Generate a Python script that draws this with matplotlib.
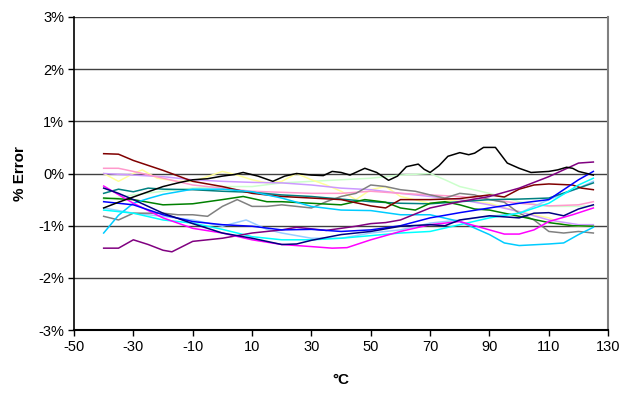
import matplotlib
matplotlib.use('Agg')
import matplotlib.pyplot as plt
from matplotlib.ticker import FuncFormatter

plt.rcParams['font.family'] = ['Liberation Sans', 'DejaVu Sans']
plt.rcParams['axes.unicode_minus'] = False

# readings (temperature in degC, error in %)
black_x = [-40, -35, -30, -25, -20, -15, -10, -5, 0, 4, 7, 12, 17, 21, 25, 30, 34, 37, 40, 43, 48, 52, 56, 59, 62, 66, 68, 70, 73, 76, 80, 83, 85, 88, 92, 94, 96, 100, 104, 110, 113, 116, 118, 120, 125]
black_y = [-0.66, -0.55, -0.45, -0.35, -0.25, -0.18, -0.12, -0.1, -0.05, -0.02, 0.02, -0.05, -0.15, -0.05, 0.0, -0.03, -0.04, 0.04, 0.02, -0.03, 0.1, 0.02, -0.13, -0.05, 0.13, 0.18, 0.08, 0.02, 0.15, 0.33, 0.4, 0.36, 0.39, 0.5, 0.5, 0.35, 0.2, 0.1, 0.02, 0.04, 0.07, 0.12, 0.1, 0.04, -0.03]

darkred_x = [-40, -35, -30, -20, -10, 0, 10, 20, 30, 40, 50, 55, 60, 70, 80, 90, 95, 100, 105, 110, 118, 121, 125]
darkred_y = [0.38, 0.37, 0.25, 0.06, -0.15, -0.25, -0.38, -0.44, -0.47, -0.5, -0.62, -0.66, -0.5, -0.5, -0.48, -0.41, -0.45, -0.3, -0.22, -0.2, -0.22, -0.28, -0.31]

purple_x = [-40, -35, -30, -25, -20, -17, -10, 0, 10, 20, 25, 35, 45, 50, 55, 60, 70, 80, 90, 100, 110, 115, 120, 125]
purple_y = [-1.43, -1.43, -1.27, -1.36, -1.47, -1.5, -1.3, -1.24, -1.14, -1.08, -1.03, -1.09, -1.01, -0.96, -0.94, -0.89, -0.66, -0.54, -0.44, -0.28, -0.06, 0.07, 0.2, 0.22]

magenta_x = [-40, -30, -20, -10, 0, 10, 20, 30, 37, 42, 50, 60, 70, 80, 90, 95, 100, 105, 110, 118, 125]
magenta_y = [-0.24, -0.57, -0.85, -1.05, -1.14, -1.27, -1.36, -1.4, -1.43, -1.42, -1.27, -1.11, -0.98, -0.92, -1.08, -1.16, -1.16, -1.08, -0.92, -0.79, -0.66]

navy_x = [-40, -35, -30, -20, -10, 0, 10, 20, 25, 30, 40, 50, 60, 70, 75, 80, 90, 100, 105, 110, 115, 120, 125]
navy_y = [-0.28, -0.38, -0.5, -0.76, -0.96, -1.14, -1.24, -1.36, -1.35, -1.28, -1.17, -1.11, -1.01, -0.98, -1.0, -0.89, -0.81, -0.85, -0.76, -0.75, -0.81, -0.68, -0.6]

blue_x = [-40, -30, -20, -10, 0, 10, 20, 30, 40, 50, 60, 70, 80, 90, 100, 110, 115, 120, 125]
blue_y = [-0.54, -0.6, -0.79, -0.92, -0.98, -1.01, -1.08, -1.07, -1.11, -1.08, -1.0, -0.85, -0.75, -0.66, -0.57, -0.5, -0.31, -0.12, 0.04]

sky_x = [-40, -35, -30, -25, -20, -10, 0, 10, 20, 30, 40, 50, 60, 70, 80, 90, 95, 100, 110, 115, 120, 125]
sky_y = [-1.14, -0.8, -0.57, -0.48, -0.4, -0.3, -0.3, -0.35, -0.47, -0.63, -0.7, -0.71, -0.79, -0.79, -0.92, -1.17, -1.33, -1.38, -1.35, -1.33, -1.17, -1.03]

cyan_x = [-40, -30, -20, -10, 0, 10, 20, 30, 40, 50, 60, 70, 80, 90, 100, 110, 120, 125]
cyan_y = [-0.7, -0.76, -0.89, -0.95, -1.07, -1.21, -1.27, -1.27, -1.24, -1.19, -1.14, -1.11, -0.98, -0.85, -0.76, -0.57, -0.22, -0.09]

ltblue_x = [-40, -30, -20, -10, 0, 8, 15, 20, 30, 40, 50, 60, 70, 80, 90, 100, 110, 120, 125]
ltblue_y = [-0.66, -0.76, -0.82, -0.89, -1.01, -0.89, -1.07, -1.14, -1.24, -1.24, -1.14, -1.08, -0.95, -0.89, -0.82, -0.76, -0.5, -0.28, -0.15]

teal_x = [-40, -35, -30, -25, -20, -10, 0, 10, 20, 30, 40, 50, 60, 70, 80, 90, 100, 110, 120, 125]
teal_y = [-0.38, -0.3, -0.35, -0.28, -0.3, -0.31, -0.34, -0.36, -0.41, -0.44, -0.49, -0.54, -0.57, -0.58, -0.54, -0.5, -0.49, -0.47, -0.28, -0.18]

green_x = [-40, -30, -20, -10, 0, 7, 15, 20, 30, 40, 48, 55, 60, 65, 70, 75, 80, 85, 90, 100, 110, 118, 125]
green_y = [-0.47, -0.5, -0.6, -0.58, -0.5, -0.44, -0.54, -0.54, -0.57, -0.6, -0.5, -0.55, -0.66, -0.7, -0.57, -0.54, -0.6, -0.68, -0.7, -0.82, -0.94, -1.0, -1.01]

gray_x = [-40, -35, -30, -20, -15, -10, -5, 0, 5, 10, 15, 20, 30, 35, 40, 45, 50, 55, 60, 65, 70, 75, 80, 85, 90, 95, 100, 105, 110, 115, 120, 125]
gray_y = [-0.82, -0.89, -0.76, -0.76, -0.79, -0.79, -0.82, -0.63, -0.5, -0.63, -0.63, -0.6, -0.66, -0.54, -0.44, -0.38, -0.22, -0.25, -0.31, -0.34, -0.41, -0.47, -0.38, -0.41, -0.5, -0.55, -0.76, -0.89, -1.11, -1.14, -1.11, -1.14]

yellow_x = [-40, -35, -30, -27, -22, -15, -10, -5, 0, 5, 10, 15, 20, 25, 30, 35, 40, 45, 50, 55, 60, 70, 80, 90, 100, 110, 115, 120, 125]
yellow_y = [0.0, -0.15, 0.0, 0.07, -0.09, -0.15, -0.15, -0.06, 0.04, -0.03, -0.12, -0.18, -0.15, 0.0, -0.12, -0.22, -0.34, -0.5, -0.31, -0.25, -0.44, -0.57, -0.5, -0.57, -0.73, -0.85, -0.98, -1.01, -1.01]

lavender_x = [-40, -30, -20, -10, 0, 10, 20, 30, 40, 50, 60, 70, 80, 90, 100, 110, 120, 125]
lavender_y = [0.0, -0.03, -0.06, -0.12, -0.15, -0.17, -0.18, -0.22, -0.28, -0.31, -0.38, -0.44, -0.5, -0.6, -0.73, -0.89, -0.98, -0.98]

pink_x = [-40, -35, -30, -20, -10, 0, 10, 20, 30, 40, 50, 60, 70, 80, 90, 100, 110, 120, 125]
pink_y = [0.1, 0.1, 0.04, -0.09, -0.22, -0.28, -0.34, -0.36, -0.38, -0.38, -0.34, -0.38, -0.41, -0.44, -0.5, -0.57, -0.62, -0.6, -0.54]

ltgreen_x = [-40, -30, -20, -10, 0, 10, 20, 30, 40, 50, 60, 70, 75, 80, 90, 100, 110, 120, 125]
ltgreen_y = [-0.5, -0.41, -0.34, -0.28, -0.25, -0.25, -0.18, -0.15, -0.12, -0.09, -0.03, 0.0, -0.12, -0.25, -0.38, -0.54, -0.63, -0.63, -0.62]

series = [
    (ltgreen_x, ltgreen_y, '#CCFFCC'),
    (yellow_x, yellow_y, '#FFFF99'),
    (lavender_x, lavender_y, '#CC99FF'),
    (pink_x, pink_y, '#FF99CC'),
    (ltblue_x, ltblue_y, '#99CCFF'),
    (gray_x, gray_y, '#808080'),
    (teal_x, teal_y, '#008080'),
    (green_x, green_y, '#008000'),
    (darkred_x, darkred_y, '#800000'),
    (sky_x, sky_y, '#00CCFF'),
    (cyan_x, cyan_y, '#00FFFF'),
    (purple_x, purple_y, '#800080'),
    (magenta_x, magenta_y, '#FF00FF'),
    (blue_x, blue_y, '#0000FF'),
    (navy_x, navy_y, '#000080'),
    (black_x, black_y, '#000000'),
]

fig = plt.figure(figsize=(6.27, 3.93), dpi=100)
ax = fig.add_axes([0.118, 0.16, 0.852, 0.797])

for xs, ys, c in series:
    ax.plot(xs, ys, color=c, linewidth=1.1)

ax.set_xlim(-50, 130)
ax.set_ylim(-3, 3)
ax.set_xticks(range(-50, 131, 20))
ax.set_yticks(range(-3, 4))
ax.yaxis.set_major_formatter(FuncFormatter(lambda v, p: '%d%%' % v))

for v in range(-2, 4):
    ax.axhline(v, color='#404040', linewidth=1.0, zorder=0)

ax.spines['top'].set_visible(False)
ax.spines['right'].set_color('#808080')
ax.spines['right'].set_linewidth(1.5)
ax.spines['left'].set_linewidth(1.2)
ax.spines['bottom'].set_linewidth(1.5)

ax.tick_params(axis='both', direction='out', length=4, width=1, labelsize=10.5, pad=3)

ax.set_xlabel('°C', fontsize=11, fontweight='bold', labelpad=14)
ax.set_ylabel('% Error', fontsize=11, fontweight='bold', labelpad=8)

fig.savefig('out.png', dpi=100)
